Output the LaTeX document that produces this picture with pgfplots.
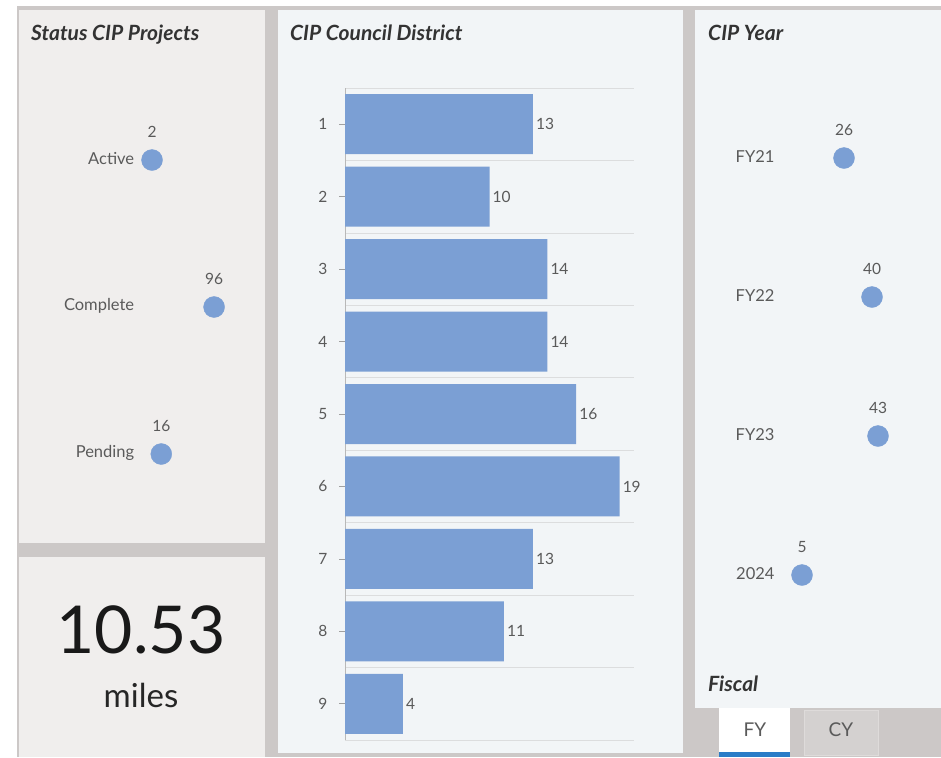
\documentclass[border=0pt]{standalone}
\usepackage{pgfplots}
\pgfplotsset{compat=1.18}
\usepackage{fontspec}
\setmainfont{Lato}
\definecolor{bggray}{HTML}{CCC8C7}
\definecolor{leftpanel}{HTML}{F0EEED}
\definecolor{bluepanel}{HTML}{F2F5F7}
\definecolor{barblue}{HTML}{7B9FD4}
\definecolor{gridgray}{HTML}{DCDDDE}
\definecolor{axisgray}{HTML}{B8B8B8}
\definecolor{tickgray}{HTML}{A0A0A0}
\definecolor{textgray}{HTML}{5A5A5A}
\definecolor{titlecol}{HTML}{333333}
\definecolor{tabblue}{HTML}{2A7CC7}
\definecolor{cytab}{HTML}{D4D1D0}
\definecolor{cyborder}{HTML}{DEDBDA}
\pgfplotsset{/pgf/number format/assume math mode=true}
\newcommand{\lab}{\fontsize{16.5}{16.5}\selectfont}
\newcommand{\val}{\fontsize{15.5}{15.5}\selectfont}
\newcommand{\ttl}{\fontsize{21}{21}\selectfont\bfseries\itshape}
\begin{document}
\begin{tikzpicture}[x=1pt,y=1pt]
\fill[white] (0,0) rectangle (941,-757);
\fill[bggray] (17,-6) rectangle (941,-757);
\fill[leftpanel] (19,-10) rectangle (265,-543);
\fill[leftpanel] (19,-557) rectangle (265,-757);
\fill[bluepanel] (278,-10) rectangle (683,-753);
\fill[bluepanel] (695,-10) rectangle (941,-708);
% tabs
\fill[white] (719,-708) rectangle (790,-752);
\fill[tabblue] (719,-752) rectangle (790,-757);
\filldraw[fill=cytab, draw=cyborder, line width=1pt] (804,-710) rectangle (878,-755);
\node[text=textgray, font=\fontsize{19}{19}\selectfont] at (755,-730) {FY};
\node[text=textgray, font=\fontsize{19}{19}\selectfont] at (841,-730) {CY};
% titles
\node[anchor=base west, inner sep=0, text=titlecol, font=\ttl] at (31,-41) {Status CIP Projects};
\node[anchor=base west, inner sep=0, text=titlecol, font=\ttl] at (290,-41) {CIP Council District};
\node[anchor=base west, inner sep=0, text=titlecol, font=\ttl] at (708,-41) {CIP Year};
\node[anchor=base west, inner sep=0, text=titlecol, font=\ttl] at (708,-691) {Fiscal};
% big number
\node[anchor=base, inner sep=0, text=black!90, font=\fontsize{66}{66}\selectfont] at (141,-653) {10.53};
\node[anchor=base, inner sep=0, text=black!85, font=\fontsize{33}{33}\selectfont] at (141,-707) {miles};

% bar chart
\begin{axis}[at={(345pt,-740pt)}, anchor=south west, scale only axis,
  width=289pt, height=652pt,
  xbar, bar width=60pt, xmin=0, xmax=20, ymin=0.5, ymax=9.5, y dir=reverse,
  axis x line=none, axis y line*=left,
  axis line style={draw=axisgray, line width=0.8pt, -},
  ytick={1,...,9}, minor ytick={0.5,1.5,...,9.5}, yminorgrids,
  minor grid style={draw=gridgray, line width=0.8pt},
  minor tick length=0pt, major tick length=6pt, tick align=outside,
  tick style={draw=tickgray, line width=0.8pt},
  yticklabel style={font=\val, text=textgray, xshift=-8pt},
  nodes near coords, nodes near coords style={font=\val, text=textgray, inner sep=3pt},
  clip=false]
\addplot[fill=barblue, draw=none] coordinates {(13,1) (10,2) (14,3) (14,4) (16,5) (19,6) (13,7) (11,8) (4,9)};
\end{axis}

% status dot plot
\begin{axis}[at={(150.7pt,-527.5pt)}, anchor=south west, scale only axis,
  width=66pt, height=441pt, xmin=0, xmax=100, ymin=0.5, ymax=3.5, y dir=reverse,
  clip=false, axis line style={draw=none}, xtick=\empty,
  ytick={1,2,3}, yticklabels={Active,Complete,Pending},
  major tick length=0pt, tick style={draw=none},
  yticklabel style={font=\lab, text=textgray, xshift=-13pt, yshift=1.5pt}]
\addplot[color=barblue, only marks, mark=*, mark size=10.5pt, mark options={fill=barblue, draw=barblue},
  point meta=x, nodes near coords, nodes near coords align={vertical},
  nodes near coords style={font=\val, text=textgray, anchor=south, yshift=19pt}]
  coordinates {(2,1) (96,2) (16,3)};
\end{axis}

% year dot plot
\begin{axis}[at={(792pt,-644.5pt)}, anchor=south west, scale only axis,
  width=100pt, height=556pt, xmin=0, xmax=50, ymin=0.5, ymax=4.5, y dir=reverse,
  clip=false, axis line style={draw=none}, xtick=\empty,
  ytick={1,2,3,4}, yticklabels={FY21,FY22,FY23,2024},
  major tick length=0pt, tick style={draw=none},
  yticklabel style={font=\lab, text=textgray, xshift=-14pt, yshift=1.5pt}]
\addplot[color=barblue, only marks, mark=*, mark size=10.5pt, mark options={fill=barblue, draw=barblue},
  point meta=x, nodes near coords, nodes near coords align={vertical},
  nodes near coords style={font=\val, text=textgray, anchor=south, yshift=19pt}]
  coordinates {(26,1) (40,2) (43,3) (5,4)};
\end{axis}

\pgfresetboundingbox
\path (0,0) rectangle (941,-757);
\end{tikzpicture}
\end{document}
